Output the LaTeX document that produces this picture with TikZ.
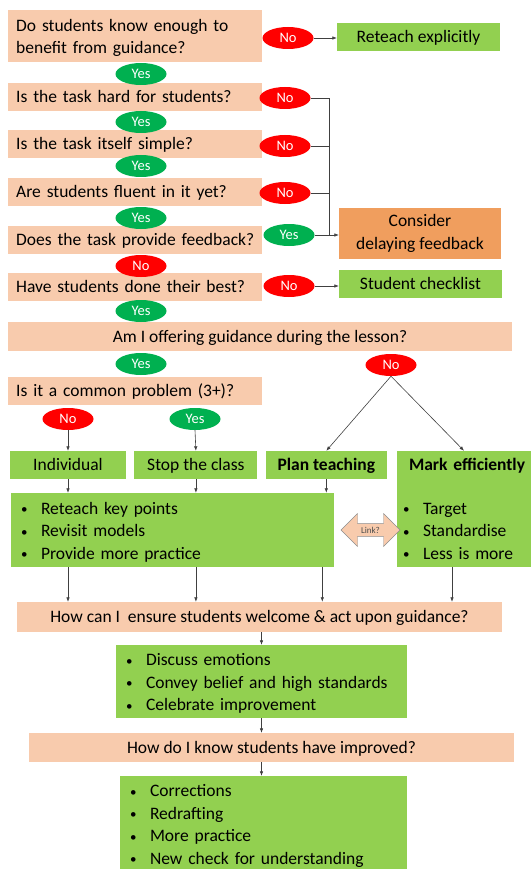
\documentclass[tikz,border=0pt]{standalone}
\usepackage{fontspec}
\setmainfont{Carlito}
\usetikzlibrary{positioning,arrows.meta,shapes.geometric,shapes.arrows}
\definecolor{peach}{HTML}{F8CBAD}
\definecolor{leaf}{HTML}{92D050}
\definecolor{amber}{HTML}{F09E5E}
\definecolor{okgreen}{HTML}{00B050}
\definecolor{nored}{HTML}{FF0000}
\newcommand{\bfont}{\fontsize{17.5}{22.5}\selectfont}
\newcommand{\itm}{\makebox[20pt][l]{\fontsize{13}{13}\selectfont\raisebox{0.5pt}{\textbullet}}}

\begin{document}
\begin{tikzpicture}[x=1pt,y=-1pt,>={Latex[length=4.5pt,width=3.5pt]},
  every node/.style={font=\bfont},
  question/.style={fill=peach,anchor=west,text width=238pt,inner xsep=8pt,align=left,minimum height=28pt},
  one line/.style={text height=13.5pt,text depth=2.5pt},
  nudge/.style={text height=16pt},
  wide/.style={fill=peach,minimum height=29pt,one line},
  act/.style={fill=leaf,minimum width=163pt,minimum height=28pt,one line},
  list/.style={fill=leaf,inner xsep=10pt,align=left},
  yes/.style={ellipse,fill=okgreen,text=white,font=\fontsize{14.5}{16}\selectfont,minimum width=51pt,minimum height=22pt,inner sep=0pt},
  no/.style={yes,fill=nored},
  wire/.style={line width=0.6pt,draw=black!75}]
  \useasboundingbox (0,0) rectangle (531,869);
  \clip (0,0) rectangle (531,869);

  % questions down the left
  \node[question,minimum height=52pt,nudge] (q1) at (8,36) {Do students know enough to\\benefit from guidance?};
  \node[question,one line] (q2) at (8,97) {Is the task hard for students?};
  \node[question,one line] (q3) at (8,144.5) {Is the task itself simple?};
  \node[question,one line] (q4) at (8,192) {Are students fluent in it yet?};
  \node[question,one line] (q5) at (8,239.5) {\mbox{Does the task provide feedback?}};
  \node[question,one line] (q6) at (8,287) {Have students done their best?};
  \node[wide,minimum width=504pt] (q7) at (260,336.5) {Am I offering guidance during the lesson?};
  \node[question,one line] (q8) at (8,391) {Is it a common problem (3+)?};

  % actions
  \node[act] (reteach) at (418.5,37) {Reteach explicitly};
  \node[fill=amber,minimum width=162pt,minimum height=51pt,align=center] (consider) at (420,233.5) {Consider\\delaying feedback};
  \node[act] (checklist) at (420.5,284) {Student checklist};
  \node[act,minimum width=116pt] (indiv) at (68,465) {Individual};
  \node[act,minimum width=123pt,right=8pt of indiv] (stop) {Stop the class};
  \node[act,minimum width=121pt,right=8pt of stop,font=\bfont\bfseries] (plan) {Plan teaching};
  \node[list,minimum width=134pt,minimum height=116pt,text width=122pt,inner xsep=6pt] (mark) at (464,509)
    {\mbox{\hspace{6pt}\textbf{Mark efficiently}}\\[21pt]\itm Target\\\itm Standardise\\\itm Less is more};
  \node[list,nudge,minimum width=323pt,minimum height=74pt,text width=303pt] (big) at (172.5,530)
    {\itm Reteach key points\\\itm Revisit models\\\itm Provide more practice};
  \node[double arrow,fill=peach,draw=black!45,minimum height=59pt,minimum width=33pt,
    double arrow head extend=8.5pt,inner sep=2pt,font=\fontsize{9}{10}\selectfont,text=black!70] (link) at (370.5,530) {Link?};
  \node[wide,minimum width=485pt,minimum height=30pt] (how) at (259.5,617) {How can I\ \ ensure students welcome \& act upon guidance?};
  \node[list,nudge,minimum width=291pt,minimum height=73pt,text width=271pt] (emo) at (261.5,681.5)
    {\itm Discuss emotions\\\itm Convey belief and high standards\\\itm Celebrate improvement};
  \node[wide,minimum width=485pt] (know) at (271.5,747.5) {How do I know students have improved?};
  \node[list,nudge,minimum width=287pt,minimum height=96pt,text width=267pt] (final) at (263.5,824)
    {\itm Corrections\\\itm Redrafting\\\itm More practice\\\itm New check for understanding};

  % yes / no answers
  \node[no] (no1) at (288,38) {No};
  \node[yes] (yes1) at (141,74) {Yes};
  \node[no] (no2) at (285,98) {No};
  \node[yes] (yes2) at (141,122) {Yes};
  \node[no] (no3) at (285,146) {No};
  \node[yes] (yes3) at (141,166) {Yes};
  \node[no] (no4) at (285,193) {No};
  \node[yes] (yes4) at (141,218) {Yes};
  \node[yes] (yes5) at (289,235) {Yes};
  \node[no] (no5) at (141,266) {No};
  \node[no] (no6) at (289,286) {No};
  \node[yes] (yes6) at (141,311) {Yes};
  \node[yes] (yes7) at (141,364) {Yes};
  \node[no] (no7) at (391,365) {No};
  \node[no] (no8) at (68,419) {No};
  \node[yes] (yes8) at (195,419) {Yes};

  \coordinate (bus) at (329,235);
  \draw[wire,->] (no1.east) -- (no1.east -| reteach.west);
  \draw[wire] (no2.east) -| (bus);
  \draw[wire] (no3.east) -- (no3.east -| bus);
  \draw[wire] (no4.east) -- (no4.east -| bus);
  \draw[wire,->] (yes5.east) -- (yes5.east -| consider.west);
  \draw[wire,->] (no6.east) -- (no6.east -| checklist.west);
  \draw[wire,->] (no7.south) -- (plan.north);
  \draw[wire,->] (no7.south) -- (mark.north);
  \draw[wire,->] (no8.south) -- (indiv.north);
  \draw[wire,->] (yes8.south) -- (stop.north);
  \foreach \n in {indiv,stop,plan}
    \draw[wire,->] (\n.south) -- (\n.south |- big.north);
  \foreach \n in {indiv,stop}
    \draw[wire,->] (\n.south |- big.south) -- (\n.south |- how.north);
  \draw[wire,->] ([xshift=-4pt]plan.south |- big.south) -- ([xshift=-4pt]plan.south |- how.north);
  \draw[wire,->] ([xshift=-12pt]mark.south) -- ([xshift=-12pt]mark.south |- how.north);
  \draw[wire,->] (how.south -| emo.north) -- (emo.north);
  \draw[wire,->] (emo.south) -- (emo.south |- know.north);
  \draw[wire,->] (emo.south |- know.south) -- (emo.south |- final.north);
\end{tikzpicture}
\end{document}
